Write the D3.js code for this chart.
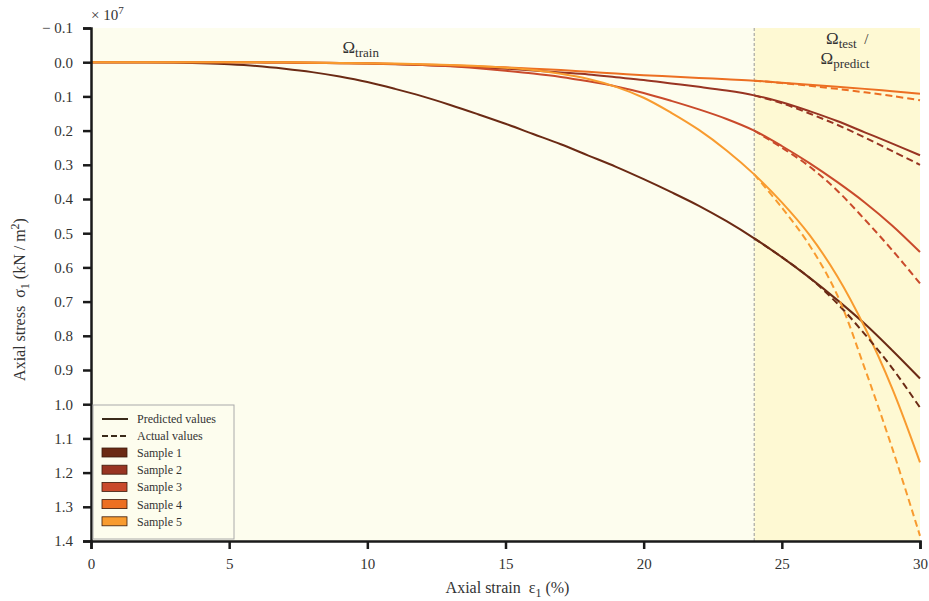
<!DOCTYPE html>
<html>
<head>
<meta charset="utf-8">
<script src="https://cdn.jsdelivr.net/npm/d3@7"></script>
<style>
  body { margin: 0; background: #fff; }
  text { font-family: "Liberation Serif", "DejaVu Serif", serif; fill: #333; white-space: pre; }
</style>
</head>
<body>
<div id="chart"></div>
<script>
// strain (%) sample positions
var strainPred   = d3.range(0, 31);          // 0..30
var strainActual = [24, 25, 26, 27, 28, 29, 30];

var sampleNames  = ["Sample 1", "Sample 2", "Sample 3", "Sample 4", "Sample 5"];
var sampleColors = ["#6b2a14", "#983422", "#c94a2b", "#ec6f22", "#f89b2f"];

// stress values, x 10^7 kN/m2
var predS1 = [0, 0, 0, 0.001, 0.003, 0.006, 0.011, 0.019, 0.029, 0.042, 0.058, 0.078, 0.1, 0.125, 0.152, 0.18,
              0.21, 0.24, 0.273, 0.306, 0.342, 0.38, 0.42, 0.465, 0.515, 0.57, 0.63, 0.695, 0.765, 0.843, 0.925];
var predS2 = [0, 0, 0, 0, 0, 0, 0.0005, 0.001, 0.002, 0.003, 0.004, 0.006, 0.008, 0.011, 0.015, 0.019,
              0.024, 0.03, 0.036, 0.044, 0.052, 0.062, 0.072, 0.083, 0.097, 0.117, 0.143, 0.172, 0.205, 0.238, 0.272];
var predS3 = [0, 0, 0, 0, 0, 0, 0, 0.0005, 0.001, 0.002, 0.003, 0.005, 0.008, 0.012, 0.018, 0.025,
              0.033, 0.043, 0.056, 0.071, 0.09, 0.113, 0.138, 0.166, 0.2, 0.245, 0.295, 0.35, 0.41, 0.478, 0.555];
var predS4 = [0, 0, 0, 0, 0, 0, 0.0005, 0.001, 0.002, 0.003, 0.004, 0.005, 0.007, 0.009, 0.012, 0.015,
              0.019, 0.023, 0.028, 0.033, 0.038, 0.042, 0.046, 0.05, 0.054, 0.06, 0.066, 0.072, 0.078, 0.085, 0.092];
var predS5 = [0, 0, 0, 0, 0, 0, 0, 0, 0.001, 0.002, 0.003, 0.004, 0.006, 0.008, 0.011, 0.016,
              0.023, 0.034, 0.049, 0.072, 0.104, 0.148, 0.198, 0.258, 0.328, 0.41, 0.505, 0.625, 0.775, 0.955, 1.17];

var actS1 = [0.515, 0.57, 0.63, 0.705, 0.795, 0.895, 1.01];
var actS2 = [0.097, 0.12, 0.15, 0.183, 0.22, 0.26, 0.30];
var actS3 = [0.2, 0.25, 0.305, 0.375, 0.46, 0.55, 0.647];
var actS4 = [0.054, 0.061, 0.069, 0.078, 0.088, 0.099, 0.111];
var actS5 = [0.328, 0.425, 0.535, 0.68, 0.895, 1.13, 1.385];

var predicted = [predS1, predS2, predS3, predS4, predS5];
var actual    = [actS1, actS2, actS3, actS4, actS5];

var yTicks = [-0.1, 0, 0.1, 0.2, 0.3, 0.4, 0.5, 0.6, 0.7, 0.8, 0.9, 1.0, 1.1, 1.2, 1.3, 1.4];
var xTicks = [0, 5, 10, 15, 20, 25, 30];
var splitStrain = 24;

var margin = { top: 28, right: 9, bottom: 60, left: 91 };
var width  = 929 - margin.left - margin.right;
var height = 601 - margin.top - margin.bottom;

var svg = d3.select("#chart")
    .append("svg")
    .attr("width", 929)
    .attr("height", 601)
    .append("g")
    .attr("transform", "translate(" + margin.left + "," + margin.top + ")");

var x = d3.scaleLinear().domain([0, 30]).range([0, width]);
var y = d3.scaleLinear().domain([-0.1, 1.4]).range([0, height]);

// background regions (train / test)
svg.append("rect")
    .attr("x", 0).attr("y", 0)
    .attr("width", x(splitStrain)).attr("height", height)
    .attr("fill", "#fdfdee");
svg.append("rect")
    .attr("x", x(splitStrain)).attr("y", 0)
    .attr("width", width - x(splitStrain)).attr("height", height)
    .attr("fill", "#fef9d3");

svg.append("line")
    .attr("x1", x(splitStrain)).attr("x2", x(splitStrain))
    .attr("y1", 0).attr("y2", height)
    .attr("stroke", "#999")
    .attr("stroke-width", 1)
    .attr("stroke-dasharray", "3,2");

var line = d3.line().curve(d3.curveCatmullRom.alpha(0.5));

// predicted lines
predicted.forEach(function(vals, i) {
    svg.append("path")
        .datum(vals.map(function(v, j) { return [x(strainPred[j]), y(v)]; }))
        .attr("fill", "none")
        .attr("stroke", sampleColors[i])
        .attr("stroke-width", 2)
        .attr("d", line);
});

// actual lines
actual.forEach(function(vals, i) {
    svg.append("path")
        .datum(vals.map(function(v, j) { return [x(strainActual[j]), y(v)]; }))
        .attr("fill", "none")
        .attr("stroke", sampleColors[i])
        .attr("stroke-width", 2)
        .attr("stroke-dasharray", "7,4")
        .attr("d", line);
});

// axes
var yAxis = svg.append("g")
    .call(d3.axisLeft(y).tickValues(yTicks).tickSizeOuter(0).tickSize(8).tickPadding(10)
        .tickFormat(function(d) { return d < 0 ? "\u2212 " + d3.format(".1f")(-d) : d3.format(".1f")(d); }));
var xAxis = svg.append("g")
    .attr("transform", "translate(0," + height + ")")
    .call(d3.axisBottom(x).tickValues(xTicks).tickSizeOuter(0).tickSize(8).tickPadding(9));

[yAxis, xAxis].forEach(function(a) {
    a.select(".domain").attr("stroke", "#1a1a1a").attr("stroke-width", 2.5);
    a.selectAll(".tick line").attr("stroke", "#1a1a1a").attr("stroke-width", 2.5);
    a.selectAll(".tick text").style("font-size", "15px").style("font-family", "Liberation Serif").attr("fill", "#333");
});

// exponent
var expo = svg.append("text").attr("x", 0).attr("y", -8).style("font-size", "15px");
expo.append("tspan").text("\u00d7 10");
expo.append("tspan").attr("dy", -6).style("font-size", "11px").text("7");

// axis titles
var xt = svg.append("text")
    .attr("x", width / 2 + 2).attr("y", height + 52)
    .attr("text-anchor", "middle").style("font-size", "16px");
xt.append("tspan").text("Axial strain  \u03b5");
xt.append("tspan").attr("dy", 4).style("font-size", "12px").text("1");
xt.append("tspan").attr("dy", -4).text(" (%)");

var yt = svg.append("text")
    .attr("transform", "translate(" + (-66) + "," + (height / 2 + 15) + ") rotate(-90)")
    .attr("text-anchor", "middle").style("font-size", "16px");
yt.append("tspan").text("Axial stress  \u03c3");
yt.append("tspan").attr("dy", 4).style("font-size", "12px").text("1");
yt.append("tspan").attr("dy", -4).text(" (kN / m");
yt.append("tspan").attr("dy", -6).style("font-size", "12px").text("2");
yt.append("tspan").attr("dy", 6).text(")");

// region labels
function omega(xp, yp, sub, extra) {
    var t = svg.append("text").attr("x", xp).attr("y", yp).style("font-size", "17px").attr("fill", "#222");
    t.append("tspan").text("\u03a9");
    t.append("tspan").attr("dy", 4).style("font-size", "13px").text(sub);
    if (extra) t.append("tspan").attr("dy", -4).style("font-size", "15px").text(extra);
}
omega(x(9.1), 25, "train");
omega(x(26.6), 16, "test", "  /");
omega(x(26.4), 36, "predict");

// legend
var lg = svg.append("g").attr("transform", "translate(2," + (height - 136) + ")");
lg.append("rect")
    .attr("width", 141).attr("height", 134)
    .attr("fill", "#fdfdee").attr("stroke", "#aaa").attr("stroke-width", 1);
lg.append("line").attr("x1", 9).attr("x2", 35).attr("y1", 14).attr("y2", 14)
    .attr("stroke", "#3a2a1a").attr("stroke-width", 2);
lg.append("text").attr("x", 44).attr("y", 18).style("font-size", "12px").text("Predicted values");
lg.append("line").attr("x1", 9).attr("x2", 35).attr("y1", 31).attr("y2", 31)
    .attr("stroke", "#3a2a1a").attr("stroke-width", 2).attr("stroke-dasharray", "6,3");
lg.append("text").attr("x", 44).attr("y", 35).style("font-size", "12px").text("Actual values");
sampleNames.forEach(function(name, i) {
    var yy = 48 + i * 17.2;
    lg.append("rect").attr("x", 9).attr("y", yy - 5).attr("width", 25).attr("height", 9)
        .attr("fill", sampleColors[i]).attr("stroke", "#3a1a0a").attr("stroke-width", 0.8);
    lg.append("text").attr("x", 44).attr("y", yy + 4).style("font-size", "12px").text(name);
});
</script>
</body>
</html>
